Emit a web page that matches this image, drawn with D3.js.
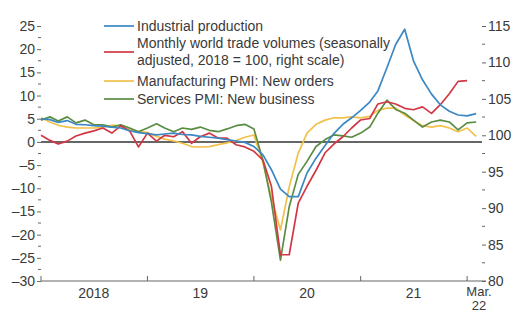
<!DOCTYPE html>
<html>
<head>
<meta charset="utf-8">
<script src="https://cdn.jsdelivr.net/npm/d3@7/dist/d3.min.js"></script>
<style>
  body { margin: 0; background: #fff; }
  svg text { font-family: "Liberation Sans Narrow", "Arial Narrow", "Liberation Sans", Arial, sans-serif; fill: #3a3a3a; }
</style>
</head>
<body>
<svg id="chart"></svg>
<script>
const W = 513;
const H = 312;

// ── Data (monthly, Jan 2018 onward) ───────────────────────────────────────────

const START = new Date(2018, 0, 1);

// year-on-year %, left scale
const industrial = [
  5.0, 4.8, 4.2, 4.6, 3.8, 3.7, 3.5, 3.4, 3.2, 3.0, 2.4, 2.0,
  1.8, 1.5, 1.7, 1.9, 1.6, 1.5, 1.2, 1.0, 0.8, 0.5, 0.2, -0.1,
  -1.0, -2.8, -6.0, -10.2, -11.8, -11.8, -6.7, -3.5, -0.8, 1.8, 3.8, 5.2,
  6.8, 8.6, 11.0, 16.0, 21.0, 24.3, 17.5, 13.4, 10.3, 8.0, 6.6, 5.8,
  5.6, 6.1,
];

// index, 2018 = 100, right scale
const tradeVolumes = [
  100.0, 99.3, 98.8, 99.2, 99.9, 100.3, 100.6, 101.0, 100.3, 101.3, 100.6, 98.4,
  100.3, 99.2, 100.0, 99.8, 100.5, 98.9, 99.8, 100.3, 99.6, 99.6, 98.7, 98.4,
  97.8, 96.6, 93.0, 83.6, 83.6, 90.7, 93.0, 95.2, 97.6, 98.8, 99.8, 101.0,
  102.1, 102.3, 104.3, 104.6, 104.3, 103.7, 103.5, 103.9, 103.0, 104.2, 105.7, 107.4,
  107.5,
];

// deviation from 50, left scale
const mfgOrders = [
  5.2, 4.3, 3.6, 3.2, 3.0, 3.0, 3.0, 3.2, 3.6, 3.4, 2.7, 2.3,
  2.0, 1.2, 0.6, 0.2, -0.3, -1.0, -1.1, -1.0, -0.6, -0.2, 0.3, 1.0,
  1.5, -4.5, -12.0, -19.0, -9.7, -2.4, 1.9, 3.8, 4.7, 5.2, 5.2, 5.4,
  5.2, 5.5, 6.8, 7.3, 7.3, 5.8, 4.6, 3.5, 3.2, 3.5, 3.0, 2.2,
  3.0, 1.2,
];

const servicesBusiness = [
  4.7, 5.4, 4.5, 5.4, 4.1, 4.7, 3.7, 3.7, 3.2, 3.7, 3.0, 2.2,
  3.0, 3.9, 3.0, 2.2, 3.0, 2.7, 3.2, 2.5, 2.2, 2.8, 3.5, 3.8,
  2.8, -4.0, -13.0, -25.5, -14.0, -7.0, -4.2, -1.0, 0.5, 1.5, 1.3, 1.0,
  1.9, 3.2, 6.2, 9.0, 7.0, 6.2, 4.7, 3.2, 4.3, 4.7, 4.3, 2.6,
  4.1, 4.3,
];

const LEFT_TICKS  = [25, 20, 15, 10, 5, 0, -5, -10, -15, -20, -25, -30];
const RIGHT_TICKS = [115, 110, 105, 100, 95, 90, 85, 80];
const YEAR_LABELS = [
  { date: new Date(2018, 6, 1), label: '2018' },
  { date: new Date(2019, 6, 1), label: '19' },
  { date: new Date(2020, 6, 1), label: '20' },
  { date: new Date(2021, 6, 1), label: '21' },
];

const SERIES = [
  { name: 'mfg',   values: mfgOrders,        axis: 'left',  color: '#f1c14b' },
  { name: 'serv',  values: servicesBusiness, axis: 'left',  color: '#5a8c42' },
  { name: 'trade', values: tradeVolumes,     axis: 'right', color: '#d23844' },
  { name: 'ip',    values: industrial,       axis: 'left',  color: '#3b88c4' },
];

const LEGEND = [
  { color: '#3b88c4', lines: ['Industrial production'] },
  { color: '#d23844', lines: ['Monthly world trade volumes (seasonally', 'adjusted, 2018 = 100, right scale)'] },
  { color: '#f1c14b', lines: ['Manufacturing PMI: New orders'] },
  { color: '#5a8c42', lines: ['Services PMI: New business'] },
];

// ── Scales ────────────────────────────────────────────────────────────────────

const M = { left: 41, right: 482, top: 26, bottom: 281 };

const x = d3.scaleTime()
  .domain([START, new Date(2022, 1, 21)])
  .range([M.left, M.right]);

const yL = d3.scaleLinear().domain([-30, 25]).range([M.bottom, M.top]);
const yR = d3.scaleLinear().domain([80, 115]).range([M.bottom, M.top]);

const dateAt = i => d3.timeMonth.offset(START, i);
const fmt = d => d < 0 ? '\u2013' + Math.abs(d) : String(d);

const svg = d3.select('#chart').attr('width', W).attr('height', H);

// ── Axes ──────────────────────────────────────────────────────────────────────

const left = svg.append('g').attr('transform', `translate(${M.left},0)`);
left.call(d3.axisLeft(yL).tickValues(LEFT_TICKS).tickSize(4).tickPadding(2).tickFormat(fmt));
left.select('.domain').remove();
// minor ticks
left.selectAll('line.minor')
  .data(LEFT_TICKS.slice(1).map(v => v + 2.5))
  .join('line').attr('class', 'minor')
  .attr('x1', -3).attr('x2', 0)
  .attr('y1', d => yL(d)).attr('y2', d => yL(d))
  .attr('stroke', '#666');

const right = svg.append('g').attr('transform', `translate(${M.right},0)`);
right.call(d3.axisRight(yR).tickValues(RIGHT_TICKS).tickSize(4).tickPadding(2).tickFormat(fmt));
right.select('.domain').remove();
right.selectAll('line.minor')
  .data(RIGHT_TICKS.slice(1).map(v => v + 2.5))
  .join('line').attr('class', 'minor')
  .attr('x1', 0).attr('x2', 3)
  .attr('y1', d => yR(d)).attr('y2', d => yR(d))
  .attr('stroke', '#666');

svg.selectAll('.tick text').style('font-size', '14px').attr('fill', '#3a3a3a');
svg.selectAll('.tick line').attr('stroke', '#666');

// bottom axis
const bottom = svg.append('g').attr('transform', `translate(0,${M.bottom})`);
bottom.append('line')
  .attr('x1', M.left).attr('x2', M.right + 4)
  .attr('stroke', '#666').attr('stroke-width', 1.2);
bottom.selectAll('line.yt')
  .data([0, 12, 24, 36, 48].map(dateAt))
  .join('line').attr('class', 'yt')
  .attr('x1', d => x(d)).attr('x2', d => x(d))
  .attr('y1', -5).attr('y2', 0)
  .attr('stroke', '#666');
bottom.selectAll('text.yl')
  .data(YEAR_LABELS)
  .join('text').attr('class', 'yl')
  .attr('x', d => x(d.date)).attr('y', 17)
  .attr('text-anchor', 'middle')
  .style('font-size', '14px')
  .text(d => d.label);
bottom.append('text')
  .attr('x', M.right - 3).attr('y', 15)
  .attr('text-anchor', 'middle').style('font-size', '13px')
  .text('Mar.');
bottom.append('text')
  .attr('x', M.right - 3).attr('y', 29)
  .attr('text-anchor', 'middle').style('font-size', '13px')
  .text('22');

// zero line
svg.append('line')
  .attr('x1', M.left).attr('x2', M.right)
  .attr('y1', yL(0)).attr('y2', yL(0))
  .attr('stroke', '#333').attr('stroke-width', 1.5);

// ── Lines ─────────────────────────────────────────────────────────────────────

SERIES.forEach(s => {
  const y = s.axis === 'left' ? yL : yR;
  const line = d3.line().x((d, i) => x(dateAt(i))).y(d => y(d));
  svg.append('path')
    .datum(s.values)
    .attr('d', line)
    .attr('fill', 'none')
    .attr('stroke', s.color)
    .attr('stroke-width', 1.7)
    .attr('stroke-linejoin', 'round');
});

// ── Legend ────────────────────────────────────────────────────────────────────

const LEG_Y = [26, 52, 81, 99];
const leg = svg.append('g');
LEGEND.forEach((d, i) => {
  const cy = LEG_Y[i];
  leg.append('line')
    .attr('x1', 104).attr('x2', 134)
    .attr('y1', cy).attr('y2', cy)
    .attr('stroke', d.color).attr('stroke-width', 1.7);
  const off = d.lines.length === 2 ? -8.5 : 0;
  d.lines.forEach((t, j) => {
    leg.append('text')
      .attr('x', 137).attr('y', cy + off + j * 17)
      .attr('dy', '0.35em')
      .style('font-size', '14px')
      .text(t);
  });
});
</script>
</body>
</html>
